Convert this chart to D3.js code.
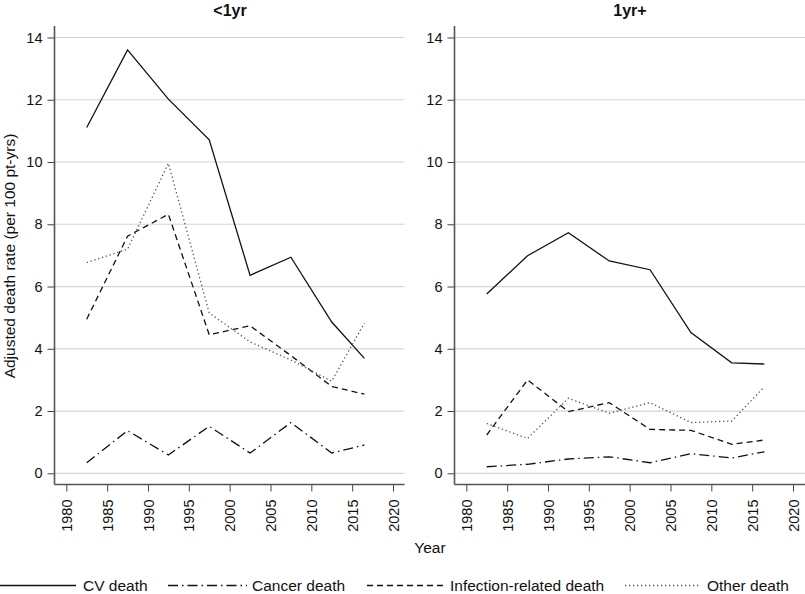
<!DOCTYPE html>
<html>
<head>
<meta charset="utf-8">
<script src="https://cdn.jsdelivr.net/npm/d3@7"></script>
<style>
  body { margin: 0; background: #fff; }
  svg { display: block; font-family: "Liberation Sans", Arial, Helvetica, sans-serif; }
</style>
</head>
<body>
<svg id="chart" width="805" height="594"></svg>
<script>
// ---- data ----
const years = [1982.5, 1987.5, 1992.5, 1997.5, 2002.5, 2007.5, 2012.5, 2016.5];
const xTicks = [1980, 1985, 1990, 1995, 2000, 2005, 2010, 2015, 2020];
const yTicks = [0, 2, 4, 6, 8, 10, 12, 14];
const panelTitles = ["<1yr", "1yr+"];
const seriesNames = ["CV death", "Cancer death", "Infection-related death", "Other death"];

const lt1_cv     = [11.11, 13.60, 12.02, 10.71, 6.36, 6.94, 4.86, 3.69];
const lt1_cancer = [0.34, 1.37, 0.59, 1.51, 0.65, 1.63, 0.65, 0.91];
const lt1_inf    = [4.95, 7.62, 8.32, 4.45, 4.74, 3.78, 2.79, 2.54];
const lt1_other  = [6.77, 7.20, 9.96, 5.15, 4.22, 3.64, 2.96, 4.83];

const ge1_cv     = [5.76, 6.99, 7.73, 6.82, 6.54, 4.52, 3.55, 3.51];
const ge1_cancer = [0.21, 0.29, 0.46, 0.53, 0.34, 0.63, 0.49, 0.69];
const ge1_inf    = [1.23, 3.00, 1.98, 2.27, 1.41, 1.38, 0.93, 1.07];
const ge1_other  = [1.60, 1.12, 2.41, 1.93, 2.27, 1.63, 1.68, 2.78];

const panelData = [
  [lt1_cv, lt1_cancer, lt1_inf, lt1_other],
  [ge1_cv, ge1_cancer, ge1_inf, ge1_other]
];

// ---- styles ----
const styles = [
  { dash: null,            color: "#111", width: 1.3 },
  { dash: "10,4,1.5,4",    color: "#111", width: 1.3 },
  { dash: "6,4",           color: "#111", width: 1.3 },
  { dash: "1.3,2.7",       color: "#555", width: 1.3 }
];

const svg = d3.select("#chart");
const yScale = d3.scaleLinear().domain([0, 14]).range([473.3, 37.5]);
const axisTop = 26, axisBottom = 484.5;

const panels = [
  { axisX: 54.5,  x0: 66.3,  x1: 393, right: 404.5, cx: 230 },
  { axisX: 454.5, x0: 466.3, x1: 793, right: 805,   cx: 630 }
];

panels.forEach((p, i) => {
  const xScale = d3.scaleLinear().domain([1980, 2020]).range([p.x0, p.x1]);
  const g = svg.append("g");

  // gridlines
  g.selectAll("line.grid").data(yTicks).join("line")
    .attr("x1", p.axisX).attr("x2", p.right)
    .attr("y1", d => yScale(d)).attr("y2", d => yScale(d))
    .attr("stroke", "#d4d4d4").attr("stroke-width", 1.2);

  // y axis
  const ya = g.append("g").attr("transform", `translate(${p.axisX},0)`)
    .call(d3.axisLeft(yScale).tickValues(yTicks).tickSize(7).tickPadding(5).tickFormat(d3.format("d")));
  ya.select(".domain").remove();
  ya.selectAll(".tick line").attr("stroke", "#444").attr("stroke-width", 1);
  ya.selectAll(".tick text").attr("font-size", 14.5).attr("fill", "#111")
    .attr("font-family", "Liberation Sans, Arial, sans-serif");

  // x axis
  const xa = g.append("g").attr("transform", `translate(0,${axisBottom})`)
    .call(d3.axisBottom(xScale).tickValues(xTicks).tickSize(7).tickFormat(d3.format("d")));
  xa.select(".domain").remove();
  xa.selectAll(".tick line").attr("stroke", "#444").attr("stroke-width", 1);
  xa.selectAll(".tick text")
    .attr("font-size", 14.5).attr("fill", "#111")
    .attr("font-family", "Liberation Sans, Arial, sans-serif")
    .attr("text-anchor", "end")
    .attr("transform", "translate(0,15) rotate(-90)")
    .attr("x", 0).attr("y", 0).attr("dy", "0.35em");

  // axis lines
  g.append("line").attr("x1", p.axisX).attr("x2", p.axisX)
    .attr("y1", axisTop).attr("y2", axisBottom)
    .attr("stroke", "#555").attr("stroke-width", 1.6);
  g.append("line").attr("x1", p.axisX).attr("x2", p.right)
    .attr("y1", axisBottom).attr("y2", axisBottom)
    .attr("stroke", "#555").attr("stroke-width", 1.6);

  // series lines
  const line = d3.line().x((d, j) => xScale(years[j])).y(d => yScale(d));
  panelData[i].forEach((vals, k) => {
    const s = styles[k];
    g.append("path").datum(vals)
      .attr("d", line)
      .attr("fill", "none")
      .attr("stroke", s.color)
      .attr("stroke-width", s.width)
      .attr("stroke-dasharray", s.dash);
  });

  // panel title
  g.append("text").attr("x", p.cx).attr("y", 16)
    .attr("text-anchor", "middle").attr("font-size", 16).attr("font-weight", "bold")
    .attr("fill", "#111").text(panelTitles[i]);
});

// axis titles
svg.append("text")
  .attr("transform", "translate(15,256) rotate(-90)")
  .attr("text-anchor", "middle").attr("font-size", 15.5).attr("fill", "#111")
  .text("Adjusted death rate (per 100 pt-yrs)");
svg.append("text")
  .attr("x", 430).attr("y", 553)
  .attr("text-anchor", "middle").attr("font-size", 15.5).attr("fill", "#111")
  .text("Year");

// legend
const legendItems = [
  { x1: 0,   x2: 76,  tx: 83 },
  { x1: 168, x2: 247, tx: 252 },
  { x1: 367, x2: 443, tx: 450 },
  { x1: 625, x2: 701, tx: 707 }
];
const ly = 585.5;
legendItems.forEach((it, k) => {
  const s = styles[k];
  svg.append("line").attr("x1", it.x1).attr("x2", it.x2).attr("y1", ly).attr("y2", ly)
    .attr("stroke", s.color).attr("stroke-width", s.width).attr("stroke-dasharray", s.dash);
  svg.append("text").attr("x", it.tx).attr("y", ly).attr("dy", "0.35em")
    .attr("font-size", 15.5).attr("fill", "#111").text(seriesNames[k]);
});
</script>
</body>
</html>
